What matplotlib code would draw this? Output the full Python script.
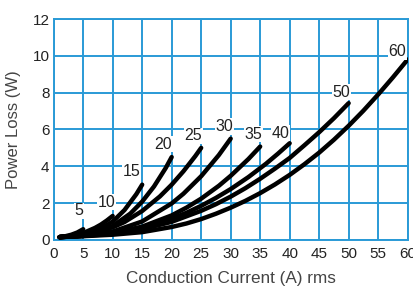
import matplotlib
matplotlib.use("Agg")
import matplotlib.pyplot as plt

plt.rcParams["font.family"] = ["Liberation Sans", "DejaVu Sans"]

# curve data (rating -> points)
x5 = [1, 2, 3, 4, 5]
y5 = [0.15, 0.20, 0.28, 0.40, 0.58]
x10 = [1, 3, 5, 7, 8, 9, 10]
y10 = [0.15, 0.22, 0.37, 0.65, 0.83, 1.05, 1.30]
x15 = [1, 4, 7, 10, 12, 14, 15]
y15 = [0.15, 0.20, 0.43, 0.99, 1.62, 2.48, 3.00]
x20 = [1, 5, 10, 13, 15, 17, 19, 20]
y20 = [0.15, 0.24, 0.75, 1.43, 2.08, 2.90, 3.91, 4.50]
x25 = [1, 5, 10, 12, 15, 18, 20, 22, 24, 25]
y25 = [0.15, 0.25, 0.68, 0.97, 1.57, 2.36, 3.00, 3.73, 4.55, 5.00]
x30 = [1, 5, 10, 15, 20, 22, 25, 28, 30]
y30 = [0.15, 0.22, 0.45, 1.00, 1.98, 2.51, 3.46, 4.61, 5.50]
x35 = [1, 5, 10, 15, 20, 22.5, 25, 28, 30, 33, 35]
y35 = [0.15, 0.22, 0.37, 0.72, 1.33, 1.75, 2.24, 2.94, 3.48, 4.39, 5.07]
x40 = [1, 5, 10, 15, 20, 22.5, 25, 27.5, 30, 33, 36, 38, 40]
y40 = [0.15, 0.22, 0.36, 0.66, 1.15, 1.47, 1.85, 2.28, 2.76, 3.41, 4.14, 4.68, 5.25]
x50 = [1, 5, 10, 15, 20, 25, 27.5, 30, 32.5, 35, 37.5, 40, 42.5, 45, 47.5, 50]
y50 = [0.15, 0.21, 0.33, 0.58, 0.98, 1.58, 1.94, 2.35, 2.81, 3.32, 3.87, 4.45,
       5.14, 5.85, 6.61, 7.43]
x60 = [1, 5, 10, 15, 20, 22.5, 25, 27.5, 30, 32.5, 35, 37.5, 40, 42.5, 45,
       47.5, 50, 52.5, 55, 57.5, 60]
y60 = [0.15, 0.20, 0.28, 0.42, 0.70, 0.89, 1.13, 1.42, 1.75, 2.12, 2.54, 3.01,
       3.53, 4.11, 4.74, 5.44, 6.20, 7.02, 7.90, 8.83, 9.80]

curves = [(x5, y5), (x10, y10), (x15, y15), (x20, y20), (x25, y25),
          (x30, y30), (x35, y35), (x40, y40), (x50, y50), (x60, y60)]
labels = ["5", "10", "15", "20", "25", "30", "35", "40", "50", "60"]
label_x = [4.3, 9.0, 13.2, 18.6, 23.7, 28.9, 33.9, 38.5, 48.8, 58.3]
label_y = [1.58, 2.05, 3.7, 5.2, 5.65, 6.16, 5.74, 5.8, 8.03, 10.23]

blue = "#2a9ad6"

fig = plt.figure(figsize=(4.13, 2.89), dpi=100)
ax = fig.add_axes([0.130, 0.170, 0.857, 0.764])

for xs, ys in curves:
    ax.plot(xs, ys, color="black", lw=3.2, solid_capstyle="round",
            solid_joinstyle="round", zorder=3)

for lab, lx, ly in zip(labels, label_x, label_y):
    ax.text(lx, ly, lab, fontsize=11.5, color="#222222", ha="center", va="center",
            zorder=4, bbox=dict(facecolor="white", edgecolor="none", pad=0.5))

ax.set_xlim(0, 60)
ax.set_ylim(0, 12)
ax.set_xticks(range(0, 61, 5))
ax.set_yticks(range(0, 13, 2))
ax.grid(True, color=blue, lw=1.4)
ax.set_axisbelow(True)
for s in ax.spines.values():
    s.set_color(blue)
    s.set_linewidth(1.4)
ax.tick_params(length=0, labelsize=11, labelcolor="#222222")
ax.tick_params(axis="y", pad=3)
ax.tick_params(axis="x", pad=5)

ax.set_xlabel("Conduction Current (A) rms", fontsize=12.3, color="#444444", labelpad=7)
ax.set_ylabel("Power Loss (W)", fontsize=12, color="#444444", labelpad=8)

fig.savefig("out.png", dpi=100)
